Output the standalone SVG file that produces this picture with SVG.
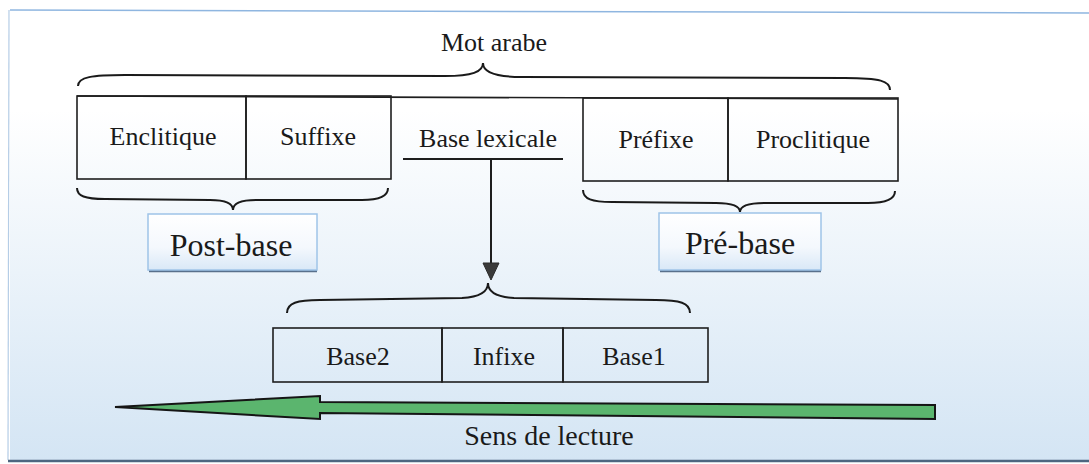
<svg xmlns="http://www.w3.org/2000/svg" width="1089" height="464" viewBox="0 0 1089 464">
  <defs>
    <linearGradient id="bg" x1="0" y1="0" x2="0" y2="1">
      <stop offset="0" stop-color="#ffffff"/>
      <stop offset="0.22" stop-color="#ffffff"/>
      <stop offset="1" stop-color="#d4e5f4"/>
    </linearGradient>
    <linearGradient id="lbl" x1="0" y1="0" x2="0" y2="1">
      <stop offset="0" stop-color="#ffffff"/>
      <stop offset="0.6" stop-color="#f4f8fd"/>
      <stop offset="1" stop-color="#d9e8f7"/>
    </linearGradient>
    <style>
      .t { font-family: "Liberation Serif", "Times New Roman", serif; fill: #1a1a1a; text-anchor: middle; }
      .box { fill: none; stroke: #1e1e1e; stroke-width: 1.6; }
      .brace { fill: none; stroke: #1a1a1a; stroke-width: 2; }
      .lblbox { fill: url(#lbl); stroke: #9fc4e8; stroke-width: 1.5; }
      .shadow { stroke: #58708c; stroke-width: 2.5; }
    </style>
  </defs>

  <!-- background and frame -->
  <rect x="0" y="0" width="1089" height="464" fill="#ffffff"/>
  <rect x="10" y="11" width="1079" height="449" fill="url(#bg)"/>
  <line x1="10" y1="10" x2="1089" y2="13" stroke="#8fb6e0" stroke-width="1.5"/>
  <line x1="9" y1="10" x2="8" y2="460" stroke="#b5cde6" stroke-width="1.2"/>
  <line x1="8" y1="461" x2="1089" y2="461" stroke="#4d6680" stroke-width="2.5"/>

  <!-- title -->
  <g id="mot-arabe">
    <text class="t" x="494" y="51" font-size="26">Mot arabe</text>
    <path class="brace" d="M78,86 C78,77 92,75 125,75 L445,76 C472,76 483,72 483,63 C483,72 494,77 522,77 L845,78 C880,78 890,81 890,90"/>
  </g>

  <!-- top row -->
  <g id="top-row">
    <line x1="77" y1="96" x2="898" y2="99" stroke="#1e1e1e" stroke-width="1.6"/>
  </g>
  <g id="enclitique">
    <rect class="box" x="77" y="96" width="169" height="83"/>
    <text class="t" x="163" y="145" font-size="26">Enclitique</text>
  </g>
  <g id="suffixe">
    <rect class="box" x="246" y="96" width="145" height="83"/>
    <text class="t" x="318" y="145" font-size="26">Suffixe</text>
  </g>
  <g id="base-lexicale">
    <text class="t" x="488" y="147" font-size="26">Base lexicale</text>
    <line x1="403" y1="159" x2="563" y2="159" stroke="#1e1e1e" stroke-width="2"/>
  </g>
  <g id="prefixe">
    <rect class="box" x="583" y="98" width="145" height="83"/>
    <text class="t" x="656" y="148" font-size="26">Préfixe</text>
  </g>
  <g id="proclitique">
    <rect class="box" x="728" y="98" width="170" height="83"/>
    <text class="t" x="813" y="148" font-size="26">Proclitique</text>
  </g>

  <!-- post-base -->
  <g id="post-base">
    <path class="brace" d="M77,188 C77,196 85,199 105,199 L210,200 C226,200 233,203 233,210 C233,203 240,200 256,200 L362,200 C380,200 388,196 388,188"/>
    <line class="shadow" x1="149" y1="271" x2="317" y2="271"/>
    <rect class="lblbox" x="148" y="214" width="169" height="56"/>
    <text class="t" x="231" y="256" font-size="32">Post-base</text>
  </g>

  <!-- pre-base -->
  <g id="pre-base">
    <path class="brace" d="M583,190 C583,199 592,202 612,202 L716,203 C733,203 740,206 740,212 C740,206 747,203 764,203 L868,203 C887,203 895,199 895,191"/>
    <line class="shadow" x1="660" y1="271" x2="821" y2="271"/>
    <rect class="lblbox" x="659" y="213" width="162" height="57"/>
    <text class="t" x="740" y="254" font-size="32">Pré-base</text>
  </g>

  <!-- bottom brace and row -->
  <g id="base-brace">
    <path class="brace" d="M287,313 C287,303 297,300 320,300 L462,298 C480,297 488,292 488,283 C488,292 496,297 514,298 L656,300 C680,300 690,303 690,313"/>
  </g>
  <g id="base2">
    <rect class="box" x="273" y="328" width="169" height="54"/>
    <text class="t" x="358" y="365" font-size="26">Base2</text>
  </g>
  <g id="infixe">
    <rect class="box" x="442" y="328" width="121" height="54"/>
    <text class="t" x="504" y="365" font-size="26">Infixe</text>
  </g>
  <g id="base1">
    <rect class="box" x="563" y="328" width="145" height="54"/>
    <text class="t" x="634" y="365" font-size="26">Base1</text>
  </g>

  <!-- connectors -->
  <g id="connectors">
    <line x1="491" y1="159" x2="491" y2="265" stroke="#1e1e1e" stroke-width="2"/>
    <polygon points="483,263 499,263 491,280" fill="#3a3a3a" stroke="#2a2a2a" stroke-width="1"/>
  </g>

  <!-- reading direction -->
  <g id="sens-de-lecture">
    <polygon points="115,407 320,396 320,402 935,405 935,419 320,413 320,419" fill="#5bb56e" stroke="#151515" stroke-width="2" stroke-linejoin="miter"/>
    <text class="t" x="549" y="445" font-size="28">Sens de lecture</text>
  </g>
</svg>
